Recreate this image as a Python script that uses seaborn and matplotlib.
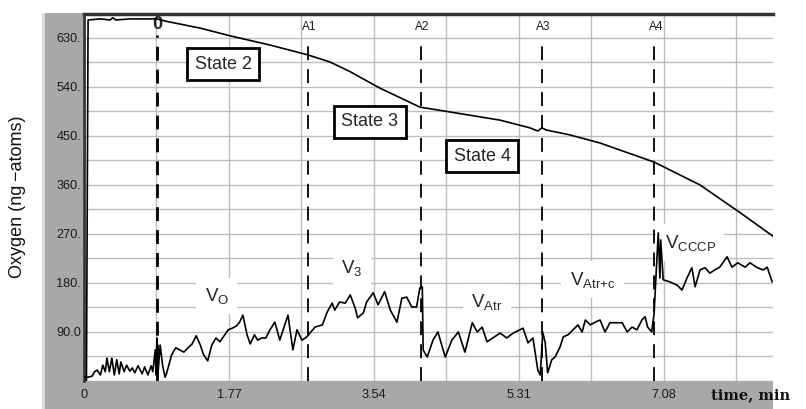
import matplotlib
matplotlib.use("Agg")
import matplotlib.pyplot as plt
from matplotlib.patches import Rectangle
from matplotlib.ticker import MultipleLocator
import seaborn as sns
import pandas as pd

# upper trace: oxygen in the chamber
oxy_time = [0.03, 0.05, 0.20, 0.32, 0.35, 0.39, 0.56, 0.81, 0.89, 0.99, 1.42, 1.78, 2.27, 2.73,
            3.00, 3.25, 3.61, 4.10, 4.47, 5.08, 5.44, 5.54, 5.59, 5.64, 5.93, 6.30, 6.96, 7.52,
            8.01, 8.41]
oxy_val = [0, 663, 665, 663, 667, 663, 665, 665, 665, 661, 648, 634, 617, 599,
           586, 568, 538, 503, 494, 479, 465, 459, 465, 461, 452, 437, 402, 360,
           309, 266]

# lower trace: respiration rate
rate_time = [0.00, 0.05, 0.10, 0.13, 0.16, 0.20, 0.23, 0.26, 0.28, 0.31, 0.34, 0.37, 0.40, 0.43,
             0.45, 0.49, 0.52, 0.56, 0.59, 0.62, 0.66, 0.71, 0.74, 0.78, 0.82, 0.84, 0.87, 0.88,
             0.89, 0.90, 0.93, 0.96, 0.99, 1.01, 1.07, 1.12, 1.17, 1.22, 1.27, 1.32, 1.37, 1.42,
             1.46, 1.51, 1.56, 1.61, 1.66, 1.71, 1.76, 1.81, 1.86, 1.90, 1.94, 1.99, 2.03, 2.08,
             2.12, 2.17, 2.22, 2.27, 2.33, 2.39, 2.49, 2.55, 2.60, 2.66, 2.72, 2.82, 2.91, 2.97,
             3.03, 3.06, 3.12, 3.19, 3.25, 3.31, 3.34, 3.41, 3.45, 3.53, 3.59, 3.67, 3.74, 3.82,
             3.88, 3.94, 4.00, 4.06, 4.10, 4.13, 4.14, 4.19, 4.26, 4.32, 4.41, 4.49, 4.57, 4.65,
             4.74, 4.80, 4.86, 4.92, 4.99, 5.08, 5.16, 5.24, 5.36, 5.42, 5.48, 5.54, 5.57, 5.60,
             5.63, 5.66, 5.71, 5.75, 5.81, 5.85, 5.91, 5.97, 6.03, 6.08, 6.12, 6.18, 6.24, 6.30,
             6.36, 6.42, 6.48, 6.57, 6.63, 6.69, 6.75, 6.81, 6.85, 6.88, 6.93, 6.96, 6.98, 7.01,
             7.03, 7.04, 7.07, 7.15, 7.24, 7.30, 7.36, 7.42, 7.46, 7.52, 7.58, 7.64, 7.70, 7.76,
             7.85, 7.91, 7.98, 8.07, 8.13, 8.22, 8.29, 8.34, 8.40]
rate_val = [7, 7, 9, 17, 20, 11, 29, 17, 42, 17, 42, 11, 39, 13,
            35, 17, 29, 18, 24, 15, 28, 13, 26, 11, 28, 17, 57, 11,
            79, 7, 66, 28, 7, 15, 48, 61, 57, 53, 61, 68, 83, 66,
            48, 37, 66, 79, 72, 83, 94, 97, 101, 108, 121, 85, 68, 85,
            75, 79, 79, 94, 108, 75, 121, 57, 94, 75, 81, 99, 103, 127,
            143, 130, 145, 143, 158, 134, 116, 125, 145, 162, 140, 164, 130, 108,
            152, 154, 136, 136, 171, 173, 57, 44, 75, 90, 44, 75, 90, 53,
            107, 90, 99, 72, 79, 88, 79, 88, 97, 70, 79, 20, 11, 90,
            70, 15, 39, 44, 62, 81, 85, 94, 103, 90, 112, 103, 108, 112,
            90, 107, 107, 107, 90, 99, 94, 112, 118, 99, 90, 125, 186, 272,
            189, 259, 186, 182, 176, 167, 189, 208, 173, 204, 208, 198, 204, 209,
            228, 209, 217, 209, 217, 208, 204, 209, 182]

events = [0.89, 2.73, 4.11, 5.59, 6.96]
event_names = ["0", "A1", "A2", "A3", "A4"]

x_ticks = [0, 1.77, 3.54, 5.31, 7.08]
x_ticklabels = ["0", "1.77", "3.54", "5.31", "7.08"]
y_ticks = [90, 180, 270, 360, 450, 540, 630]
y_ticklabels = ["90.0", "180.", "270.", "360.", "450.", "540.", "630."]

states = ["State 2", "State 3", "State 4"]
state_x = [1.70, 3.49, 4.86]
state_y = [582, 476, 413]

rate_names = ["O", "3", "Atr", r"Atr\!+\!c", "CCCP"]
rate_x = [1.62, 3.27, 4.92, 6.21, 7.40]
rate_y = [156, 208, 145, 186, 254]

oxy = pd.DataFrame({"time": oxy_time, "oxygen": oxy_val})
rate = pd.DataFrame({"time": rate_time, "rate": rate_val})

sns.set_theme(style="white")
plt.rcParams["font.family"] = ["Liberation Sans", "DejaVu Sans"]
plt.rcParams["mathtext.fontset"] = "custom"
plt.rcParams["mathtext.rm"] = "Liberation Sans"
plt.rcParams["mathtext.it"] = "Liberation Sans:italic"
plt.rcParams["lines.scale_dashes"] = False

fig = plt.figure(figsize=(8.06, 4.09), dpi=100, facecolor="white")
ax = fig.add_axes([0.1042, 0.0685, 0.8548, 0.8973])

# grey instrument frame
fig.add_artist(Rectangle((0.052, 0), 0.0045, 0.968, transform=fig.transFigure,
                         facecolor="#dadada", edgecolor="none", zorder=-2))
fig.add_artist(Rectangle((0.0555, 0), 0.048, 0.968, transform=fig.transFigure,
                         facecolor="#a8a8a8", edgecolor="none", zorder=-2))
fig.add_artist(Rectangle((0.0555, 0), 0.904, 0.0685, transform=fig.transFigure,
                         facecolor="#a8a8a8", edgecolor="none", zorder=-2))

sns.lineplot(data=oxy, x="time", y="oxygen", ax=ax, color="black", lw=1.2,
             estimator=None, sort=False, zorder=4)
sns.lineplot(data=rate, x="time", y="rate", ax=ax, color="black", lw=1.2,
             estimator=None, sort=False, zorder=4)

ax.set_xlim(0, 8.41)
ax.set_ylim(0, 674)
ax.set_xticks(x_ticks, x_ticklabels)
ax.set_yticks(y_ticks, y_ticklabels)
ax.xaxis.set_minor_locator(MultipleLocator(0.885))
ax.yaxis.set_minor_locator(MultipleLocator(45))
ax.grid(True, which="both", color="#bdbdbd", lw=1)
ax.set_axisbelow(True)
ax.tick_params(which="both", length=0, labelsize=9.2, labelcolor="#1a1a1a")
ax.tick_params(axis="x", pad=6)
ax.tick_params(axis="y", pad=2)
ax.set_xlabel("")
ax.set_ylabel("")
for side in ["right", "bottom"]:
    ax.spines[side].set_visible(False)
ax.spines["left"].set_color("#333333")
ax.spines["left"].set_linewidth(2)
ax.spines["top"].set_color("#333333")
ax.spines["top"].set_linewidth(2.5)

# additions
for i, (ev, name) in enumerate(zip(events, event_names)):
    ax.vlines(ev, 0, 626 if i else 636, colors="black", lw=2.0 if i == 0 else 1.3,
              linestyles=[(0, (10, 6.5))], zorder=3)
    if i == 0:
        ax.text(ev, 654, name, ha="center", va="center", fontsize=13, fontweight="bold")
    else:
        ax.text(ev + 0.02, 650, name, ha="center", va="center", fontsize=8.5, color="#1a1a1a")

for name, sx, sy in zip(states, state_x, state_y):
    ax.text(sx, sy, name, ha="center", va="center", fontsize=13, zorder=6,
            bbox=dict(boxstyle="square,pad=0.42", facecolor="white", edgecolor="black", lw=2))

for name, rx, ry in zip(rate_names, rate_x, rate_y):
    ax.text(rx, ry, r"$\mathrm{V}_{\mathrm{%s}}$" % name, ha="center", va="center",
            fontsize=13.5, zorder=2,
            bbox=dict(boxstyle="square,pad=0.45", facecolor="white", edgecolor="none"))

fig.text(0.022, 0.52, "Oxygen (ng\u2009\u2212atoms)", rotation=90, ha="center", va="center",
         fontsize=13, color="#111111")
fig.text(0.882, 0.034, "time, min", ha="left", va="center", fontsize=10.5,
         fontweight="bold", family="DejaVu Serif", color="#111111")

fig.savefig("out.png", dpi=100, facecolor="white")
